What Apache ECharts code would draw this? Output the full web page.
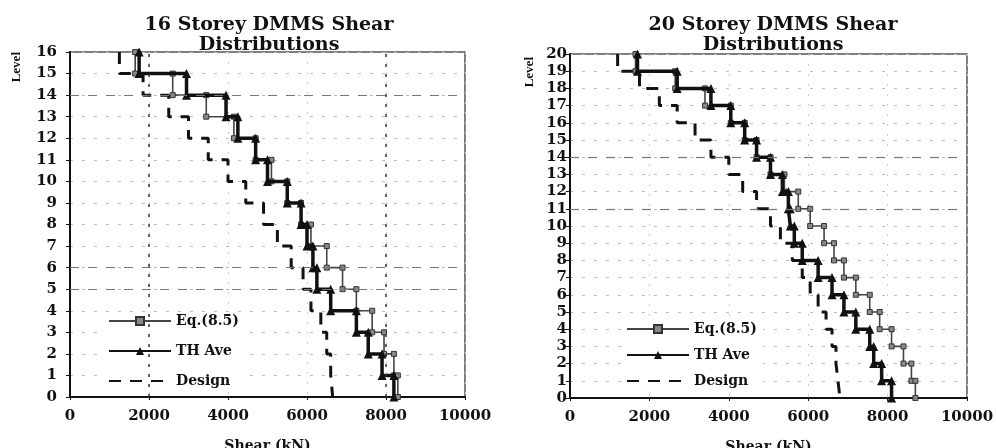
<!DOCTYPE html>
<html>
<head>
<meta charset="utf-8">
<script src="https://cdn.jsdelivr.net/npm/echarts@6/dist/echarts.min.js"></script>
<style>html,body{margin:0;padding:0;background:#fff}#c{width:996px;height:448px}</style>
</head>
<body>
<div id="c"></div>
<script>
// Shear per storey, listed from the bottom storey (level 0-1) upward
const eq16 = [8300, 8200, 7950, 7650, 7250, 6900, 6500, 6100, 5850, 5500, 5100, 4700, 4150, 3450, 2600, 1650];
const th16 = [8200, 7900, 7550, 7250, 6600, 6250, 6150, 6000, 5850, 5500, 5000, 4700, 4250, 3950, 2950, 1750];
const design16 = [6650, 6600, 6500, 6350, 6100, 5900, 5600, 5250, 4900, 4450, 4000, 3500, 3000, 2500, 1850, 1250];

const eq20 = [8700, 8600, 8400, 8100, 7800, 7550, 7200, 6900, 6650, 6400, 6050, 5750, 5400, 5050, 4700, 4400, 4050, 3400, 2650, 1650];
const th20 = [8100, 7850, 7650, 7550, 7200, 6900, 6600, 6250, 5850, 5650, 5550, 5500, 5350, 5050, 4700, 4400, 4050, 3550, 2700, 1700];
const design20 = [6800, 6750, 6700, 6600, 6450, 6250, 6050, 5850, 5600, 5300, 5050, 4700, 4350, 4000, 3550, 3150, 2700, 2250, 1750, 1200];

const seriesNames = ['Eq.(8.5)', 'TH Ave', 'Design'];
const titles = ['16 Storey DMMS Shear\nDistributions', '20 Storey DMMS Shear\nDistributions'];
const xTicks = [0, 2000, 4000, 6000, 8000, 10000];

// step path: each storey gives a vertical segment from its top level to its bottom level
function steps(vals) {
  const pts = [];
  for (let i = vals.length - 1; i >= 0; i--) {
    pts.push([vals[i], i + 1]);
    pts.push([vals[i], i]);
  }
  return pts;
}

const serif = 'DejaVu Serif';
const tickFont = { fontFamily: serif, fontWeight: 'bold', fontSize: 15, color: '#111' };

function makeSeries(idx, eq, th, des, marks) {
  return [
    {
      name: seriesNames[0], type: 'line', xAxisIndex: idx, yAxisIndex: idx,
      data: steps(eq), symbol: 'rect', symbolSize: 5, z: 3,
      lineStyle: { color: '#444', width: 1.6 },
      itemStyle: { color: '#888', borderColor: '#333', borderWidth: 1 }
    },
    {
      name: seriesNames[1], type: 'line', xAxisIndex: idx, yAxisIndex: idx,
      data: steps(th), symbol: 'triangle', symbolSize: 9, z: 4,
      lineStyle: { color: '#111', width: 3.5 },
      itemStyle: { color: '#111' }
    },
    {
      name: seriesNames[2], type: 'line', xAxisIndex: idx, yAxisIndex: idx,
      data: steps(des), symbol: 'none', z: 2,
      lineStyle: { color: '#111', width: 3, type: [12, 9] },
      itemStyle: { color: 'rgba(0,0,0,0)', borderWidth: 0 },
      markLine: {
        silent: true, symbol: 'none', label: { show: false }, animation: false,
        data: marks
      }
    }
  ];
}

const hDash = { color: '#777', width: 1.2, type: [9, 9] };
const vDot = { color: '#333', width: 1.5, type: [3, 7] };

const marks16 = [
  { yAxis: 14, lineStyle: hDash }, { yAxis: 6, lineStyle: hDash }, { yAxis: 5, lineStyle: hDash },
  { xAxis: 2000, lineStyle: vDot }, { xAxis: 8000, lineStyle: vDot }
];
const marks20 = [
  { yAxis: 14, lineStyle: hDash }, { yAxis: 11, lineStyle: hDash }
];

function xAxis(idx) {
  return {
    type: 'value', gridIndex: idx, min: 0, max: 10000, interval: 2000,
    name: 'Shear (kN)', nameLocation: 'middle', nameGap: 42,
    nameTextStyle: { fontFamily: serif, fontWeight: 'bold', fontSize: 14, color: '#111' },
    axisLine: { show: true, lineStyle: { color: '#111', width: 2 } },
    axisTick: { show: true, length: 3, lineStyle: { color: '#111' } },
    axisLabel: Object.assign({ margin: 12, formatter: v => String(v) }, tickFont),
    splitLine: { show: true, lineStyle: { color: '#ccc', width: 1, type: [2, 8] } }
  };
}
function yAxis(idx, max, margin) {
  return {
    type: 'value', gridIndex: idx, min: 0, max: max, interval: 1,
    axisLine: { show: true, lineStyle: { color: '#111', width: 2 } },
    axisTick: { show: true, length: 4, lineStyle: { color: '#111' } },
    axisLabel: Object.assign({ margin: margin }, tickFont),
    splitLine: { show: true, lineStyle: { color: '#bbb', width: 1, type: [3, 9] } }
  };
}

function legend(left, top, gap) {
  return {
    data: seriesNames, orient: 'vertical', left: left, top: top,
    itemWidth: 62, itemHeight: 10, itemGap: gap,
    backgroundColor: '#fff', padding: [2, 6, 2, 4],
    selectedMode: false,
    textStyle: { fontFamily: serif, fontWeight: 'bold', fontSize: 14, color: '#111' }
  };
}

const chart = echarts.init(document.getElementById('c'), null, { renderer: 'canvas' });
chart.setOption({
  backgroundColor: '#fff',
  animation: false,
  title: [
    { text: titles[0], left: 264, top: 10, textAlign: 'center',
      textStyle: { fontFamily: serif, fontWeight: 'bold', fontSize: 19, lineHeight: 20, color: '#111' } },
    { text: titles[1], left: 768, top: 10, textAlign: 'center',
      textStyle: { fontFamily: serif, fontWeight: 'bold', fontSize: 19, lineHeight: 20, color: '#111' } }
  ],
  legend: [legend(104, 312, 16), legend(622, 320, 12)],
  grid: [
    { left: 70, right: 531, top: 52, bottom: 51, show: true, borderColor: '#555', borderWidth: 1.5, outerBoundsMode: 'none', containLabel: false },
    { left: 570, right: 29, top: 54, bottom: 50, show: true, borderColor: '#555', borderWidth: 1.5, outerBoundsMode: 'none', containLabel: false }
  ],
  xAxis: [xAxis(0), xAxis(1)],
  yAxis: [yAxis(0, 16, 13), yAxis(1, 20, 3)],
  graphic: [
    { type: 'text', left: 10, top: 52, rotation: Math.PI / 2,
      style: { text: 'Level', font: 'bold 13px "Liberation Serif"', fill: '#111' } },
    { type: 'text', left: 523, top: 57, rotation: Math.PI / 2,
      style: { text: 'Level', font: 'bold 13px "Liberation Serif"', fill: '#111' } }
  ],
  series: [].concat(
    makeSeries(0, eq16, th16, design16, marks16),
    makeSeries(1, eq20, th20, design20, marks20)
  )
});
</script>
</body>
</html>
